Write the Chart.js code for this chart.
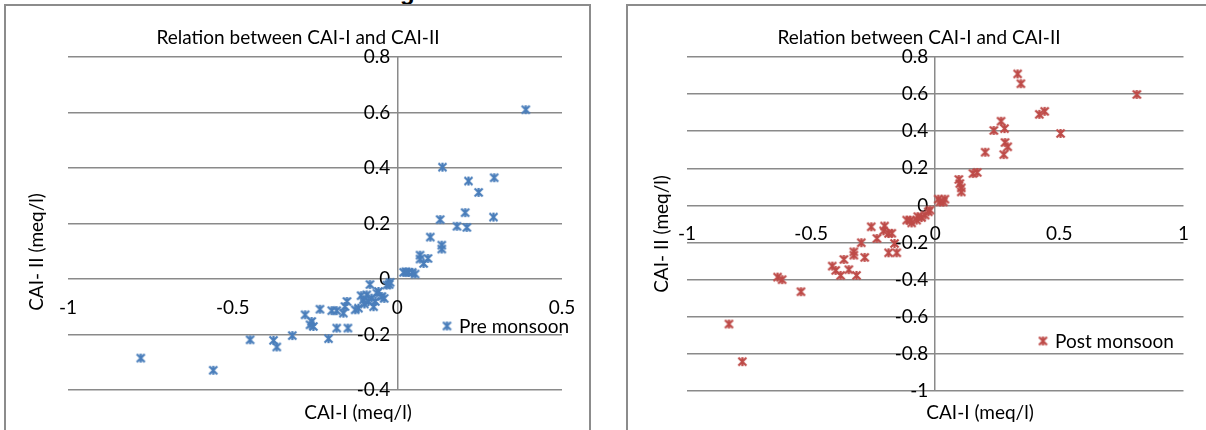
<!DOCTYPE html>
<html><head><meta charset="utf-8">
<script src="https://cdn.jsdelivr.net/npm/chart.js@4.4.0/dist/chart.umd.min.js"></script>
<style>
html,body{margin:0;padding:0;background:#fff;width:1206px;height:430px;overflow:hidden;position:relative;}
.frame{position:absolute;top:4px;height:440px;width:587px;border:2px solid #8c8c8c;box-sizing:border-box;}
#f1{left:4px;} #f2{left:626px;}
canvas{position:absolute;top:0;}
#cut{position:absolute;left:400px;top:-20px;font:bold 24px "Liberation Sans",sans-serif;line-height:24px;color:#000;}
</style></head>
<body>
<div id="cut">g</div>
<div class="frame" id="f1"></div><div class="frame" id="f2"></div>
<canvas id="c1" style="left:0px" width="600" height="430"></canvas>
<canvas id="c2" style="left:606px" width="600" height="430"></canvas>
<script>
// ---- data ----
const preCAI1 = [0.39,0.137,0.216,0.294,0.247,0.206,0.292,0.130,0.181,0.211,0.100,0.135,0.135,0.069,0.093,0.080,0.069,0.019,0.034,0.045,0.054,0.026,-0.022,-0.032,-0.025,-0.083,-0.093,-0.078,-0.062,-0.047,-0.088,-0.103,-0.067,-0.057,-0.11,-0.1,-0.072,-0.04,-0.118,-0.128,-0.153,-0.159,-0.164,-0.184,-0.199,-0.235,-0.28,-0.26,-0.255,-0.265,-0.184,-0.150,-0.209,-0.319,-0.376,-0.366,-0.447,-0.559,-0.779];
const preCAI2 = [0.61,0.403,0.353,0.365,0.312,0.239,0.223,0.214,0.190,0.186,0.151,0.122,0.108,0.086,0.074,0.056,0.072,0.024,0.024,0.024,0.018,0.026,-0.012,-0.022,-0.02,-0.02,-0.057,-0.069,-0.051,-0.063,-0.081,-0.075,-0.081,-0.045,-0.06,-0.09,-0.1,-0.07,-0.105,-0.111,-0.081,-0.099,-0.123,-0.114,-0.114,-0.109,-0.129,-0.153,-0.171,-0.165,-0.177,-0.177,-0.215,-0.204,-0.221,-0.245,-0.219,-0.329,-0.285];
const postCAI1 = [0.332,0.345,0.812,0.419,0.441,0.265,0.236,0.279,0.505,0.281,0.292,0.276,0.201,0.152,0.169,0.095,0.099,0.105,0.105,0.019,0.039,0.012,0.032,-0.021,-0.831,-0.777,-0.635,-0.617,-0.541,-0.415,-0.401,-0.381,-0.368,-0.348,-0.328,-0.328,-0.317,-0.284,-0.298,-0.258,-0.235,-0.204,-0.208,-0.188,-0.175,-0.188,-0.155,-0.164,-0.115,-0.095,-0.075,-0.055,-0.041,-0.028,-0.10,-0.07];
const postCAI2 = [0.709,0.656,0.598,0.491,0.507,0.454,0.404,0.414,0.388,0.339,0.316,0.274,0.287,0.172,0.178,0.140,0.118,0.095,0.073,0.019,0.034,0.034,0.019,-0.025,-0.639,-0.842,-0.386,-0.400,-0.465,-0.327,-0.350,-0.377,-0.291,-0.346,-0.268,-0.250,-0.377,-0.280,-0.201,-0.115,-0.178,-0.111,-0.137,-0.151,-0.15,-0.255,-0.255,-0.205,-0.079,-0.094,-0.079,-0.065,-0.052,-0.034,-0.08,-0.06];
const preXTicks = [-1,-0.5,0,0.5];
const preYTicks = [-0.4,-0.2,0,0.2,0.4,0.6,0.8];
const postXTicks = [-1,-0.5,0,0.5,1];
const postYTicks = [-1,-0.8,-0.6,-0.4,-0.2,0,0.2,0.4,0.6,0.8];
const chartTitle = 'Relation between CAI-I and CAI-II';
const xTitle = 'CAI-I (meq/l)';
const yTitle = 'CAI- II (meq/l)';
const preLabel = 'Pre monsoon';
const postLabel = 'Post monsoon';

const FONT = 'Lato, "Open Sans", sans-serif';
const FS = 19;
const GRID = '#8a8a8a';

function makeMarker(color){
  const c=document.createElement('canvas'); c.width=11; c.height=11;
  const g=c.getContext('2d'); g.strokeStyle=color; g.lineWidth=2.2;
  g.beginPath();
  g.moveTo(1.5,1.5); g.lineTo(9.5,9.5);
  g.moveTo(9.5,1.5); g.lineTo(1.5,9.5);
  g.moveTo(5.5,1); g.lineTo(5.5,10);
  g.stroke();
  return c;
}

function textPlugin(cfg){
  return {
    id:'texts',
    afterLayout(chart){
      // place the y axis labels against the x = 0 line
      const ys=chart.scales.y, px=chart.scales.x.getPixelForValue(0);
      ys.right=px; ys.left=0; ys.width=px;
    },
    afterDraw(chart){
      const ctx=chart.ctx; ctx.save();
      ctx.fillStyle='#000'; ctx.font=FS+'px '+FONT;
      ctx.textAlign='center'; ctx.textBaseline='middle';
      ctx.fillText(chartTitle, cfg.titleX, cfg.titleY);
      ctx.fillText(xTitle, cfg.xtX, cfg.xtY);
      ctx.save(); ctx.translate(cfg.ytX, cfg.ytY); ctx.rotate(-Math.PI/2);
      ctx.fillText(yTitle,0,0); ctx.restore();
      ctx.drawImage(cfg.marker, cfg.legX-5.5, cfg.legY-5.5);
      ctx.textAlign='left';
      ctx.fillText(cfg.legText, cfg.legX+12, cfg.legY+1);
      ctx.restore();
    }
  };
}

function makeChart(id, xs, ys, color, xTicks, yTicks, xMin, xMax, yMin, yMax, pad, cfg){
  const pts = xs.map((x,i)=>({x:x, y:ys[i]}));
  const marker = makeMarker(color);
  cfg.marker = marker;
  return new Chart(document.getElementById(id), {
    type:'scatter',
    data:{datasets:[{label:cfg.legText, data:pts, pointStyle:marker, pointRadius:5, pointHoverRadius:5}]},
    options:{
      responsive:false, animation:false, events:[],
      layout:{padding:pad},
      plugins:{legend:{display:false}, title:{display:false}, tooltip:{enabled:false}},
      scales:{
        x:{type:'linear', min:xMin, max:xMax, position:{y:0},
           afterBuildTicks:s=>{s.ticks=xTicks.map(v=>({value:v}));},
           afterFit:s=>{s.height=0;},
           grid:{drawTicks:false, lineWidth:1.5,
                 color:c=>(c.tick && c.tick.value===0) ? GRID : 'rgba(0,0,0,0)'},
           border:{display:false},
           ticks:{color:'#000', font:{family:FONT,size:FS}, padding:17, maxRotation:0, autoSkip:false,
                  callback:v=>String(v)}},
        y:{type:'linear', min:yMin, max:yMax, position:'left',
           afterBuildTicks:s=>{s.ticks=yTicks.map(v=>({value:v}));},
           afterFit:s=>{s.width=0;},
           grid:{color:GRID, lineWidth:1.5, drawTicks:false},
           border:{display:false},
           ticks:{color:'#000', font:{family:FONT,size:FS}, padding:7, autoSkip:false,
                  callback:v=>String(Math.round(v*10)/10)}}
      }
    },
    plugins:[textPlugin(cfg)]
  });
}

makeChart('c1', preCAI1, preCAI2, '#4a7ebb', preXTicks, preYTicks, -1, 0.5, -0.4, 0.8,
  {left:68, right:38, top:57, bottom:40},
  {titleX:298, titleY:38, xtX:358, xtY:413, ytX:37, ytY:252, legX:447, legY:326, legText:preLabel});
makeChart('c2', postCAI1, postCAI2, '#be4b48', postXTicks, postYTicks, -1, 1, -1, 0.8,
  {left:81, right:19, top:57, bottom:39},
  {titleX:313, titleY:38, xtX:374, xtY:413, ytX:56, ytY:234, legX:437, legY:341, legText:postLabel});
</script>
</body></html>
